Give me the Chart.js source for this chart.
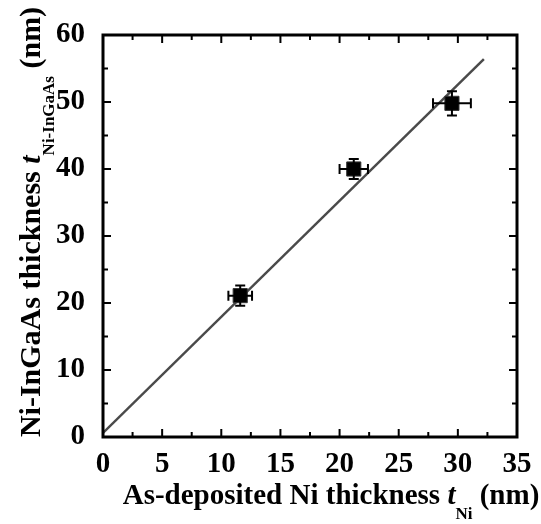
<!DOCTYPE html>
<html>
<head>
<meta charset="utf-8">
<script src="https://cdn.jsdelivr.net/npm/chart.js@4/dist/chart.umd.min.js"></script>
<style>
  html, body { margin: 0; padding: 0; background: #fff; }
  #wrap { width: 541px; height: 524px; position: relative; }
</style>
</head>
<body>
<div id="wrap"><canvas id="chart" width="541" height="524"></canvas></div>
<script>
const xValues = [11.6, 21.2, 29.5];
const yValues = [21.1, 40.0, 49.8];
const xErr = [1.0, 1.2, 1.6];
const yErr = [1.5, 1.5, 1.8];

// linear fit line endpoints
const fitX = [0, 32.2];
const fitY = [0.6, 56.4];

const xTicks = [0, 5, 10, 15, 20, 25, 30, 35];
const yTicks = [0, 10, 20, 30, 40, 50, 60];

const FONT = "'Liberation Serif', 'Times New Roman', serif";

// frame + inward ticks on all four sides
const framePlugin = {
  id: "frame",
  afterDraw(chart) {
    const { ctx, chartArea: a, scales } = chart;
    const xs = scales.x, ys = scales.y;
    ctx.save();
    ctx.strokeStyle = "#000";
    ctx.lineWidth = 2;
    for (let v = 0; v <= 35; v += 2.5) {
      const px = xs.getPixelForValue(v);
      const len = v % 5 === 0 ? 8 : 5;
      ctx.beginPath();
      ctx.moveTo(px, a.bottom); ctx.lineTo(px, a.bottom - len);
      ctx.moveTo(px, a.top); ctx.lineTo(px, a.top + len);
      ctx.stroke();
    }
    for (let v = 0; v <= 60; v += 5) {
      const py = ys.getPixelForValue(v);
      const len = v % 10 === 0 ? 8 : 5;
      ctx.beginPath();
      ctx.moveTo(a.left, py); ctx.lineTo(a.left + len, py);
      ctx.moveTo(a.right, py); ctx.lineTo(a.right - len, py);
      ctx.stroke();
    }
    ctx.lineWidth = 3;
    ctx.strokeRect(a.left, a.top, a.right - a.left, a.bottom - a.top);
    ctx.restore();

    // axis titles
    ctx.save();
    ctx.fillStyle = "#000";
    ctx.textBaseline = "alphabetic";

    const xParts = [
      ["As-deposited Ni thickness ", "bold 29px " + FONT, 0],
      ["t", "bold italic 29px " + FONT, 0],
      ["Ni", "bold 17px " + FONT, 15],
      [" (nm)", "bold 29px " + FONT, 0]
    ];
    let total = 0;
    xParts.forEach(p => { ctx.font = p[1]; total += ctx.measureText(p[0]).width; });
    let x = 331 - total / 2;
    xParts.forEach(p => {
      ctx.font = p[1];
      ctx.fillText(p[0], x, 504 + p[2]);
      x += ctx.measureText(p[0]).width;
    });

    const yParts = [
      ["Ni-InGaAs thickness ", "bold 30px " + FONT, 0],
      ["t", "bold italic 30px " + FONT, 0],
      ["Ni-InGaAs", "bold 17px " + FONT, 14],
      [" (nm)", "bold 30px " + FONT, 0]
    ];
    total = 0;
    yParts.forEach(p => { ctx.font = p[1]; total += ctx.measureText(p[0]).width; });
    ctx.translate(40, 222);
    ctx.rotate(-Math.PI / 2);
    x = -total / 2;
    yParts.forEach(p => {
      ctx.font = p[1];
      ctx.fillText(p[0], x, p[2]);
      x += ctx.measureText(p[0]).width;
    });
    ctx.restore();
  }
};

// error bars using the chart scales
const errorBarPlugin = {
  id: "errorBars",
  afterDatasetsDraw(chart) {
    const { ctx, scales } = chart;
    const xs = scales.x, ys = scales.y;
    ctx.save();
    ctx.strokeStyle = "#000";
    ctx.lineWidth = 2;
    const cap = 5;
    for (let i = 0; i < xValues.length; i++) {
      const cx = xs.getPixelForValue(xValues[i]);
      const cy = ys.getPixelForValue(yValues[i]);
      const x0 = xs.getPixelForValue(xValues[i] - xErr[i]);
      const x1 = xs.getPixelForValue(xValues[i] + xErr[i]);
      const y0 = ys.getPixelForValue(yValues[i] - yErr[i]);
      const y1 = ys.getPixelForValue(yValues[i] + yErr[i]);
      ctx.beginPath();
      ctx.moveTo(x0, cy); ctx.lineTo(x1, cy);
      ctx.moveTo(x0, cy - cap); ctx.lineTo(x0, cy + cap);
      ctx.moveTo(x1, cy - cap); ctx.lineTo(x1, cy + cap);
      ctx.moveTo(cx, y0); ctx.lineTo(cx, y1);
      ctx.moveTo(cx - cap, y0); ctx.lineTo(cx + cap, y0);
      ctx.moveTo(cx - cap, y1); ctx.lineTo(cx + cap, y1);
      ctx.stroke();
    }
    ctx.restore();
  }
};

new Chart(document.getElementById("chart"), {
  type: "scatter",
  data: {
    datasets: [
      {
        label: "fit",
        type: "line",
        data: fitX.map((v, i) => ({ x: v, y: fitY[i] })),
        borderColor: "#4a4a4a",
        borderWidth: 2.5,
        pointRadius: 0,
        fill: false,
        order: 2
      },
      {
        label: "data",
        data: xValues.map((v, i) => ({ x: v, y: yValues[i] })),
        pointStyle: "rect",
        pointRadius: 10,
        backgroundColor: "#000",
        borderColor: "#333",
        borderWidth: 1,
        order: 1
      }
    ]
  },
  plugins: [errorBarPlugin, framePlugin],
  options: {
    responsive: false,
    animation: false,
    layout: { padding: { top: 35, right: 24, left: 0, bottom: 0 } },
    plugins: { legend: { display: false }, tooltip: { enabled: false } },
    scales: {
      x: {
        type: "linear",
        min: 0,
        max: 35,
        afterFit(scale) { scale.height = 87; },
        afterBuildTicks(scale) { scale.ticks = xTicks.map(v => ({ value: v })); },
        ticks: {
          color: "#000",
          padding: 2,
          maxRotation: 0,
          font: { family: FONT, size: 29, weight: "bold" }
        },
        grid: { display: false },
        border: { display: false }
      },
      y: {
        type: "linear",
        min: 0,
        max: 60,
        afterFit(scale) { scale.width = 103; },
        afterBuildTicks(scale) { scale.ticks = yTicks.map(v => ({ value: v })); },
        ticks: {
          color: "#000",
          padding: 10,
          font: { family: FONT, size: 29, weight: "bold" }
        },
        grid: { display: false },
        border: { display: false }
      }
    }
  }
});
</script>
</body>
</html>
